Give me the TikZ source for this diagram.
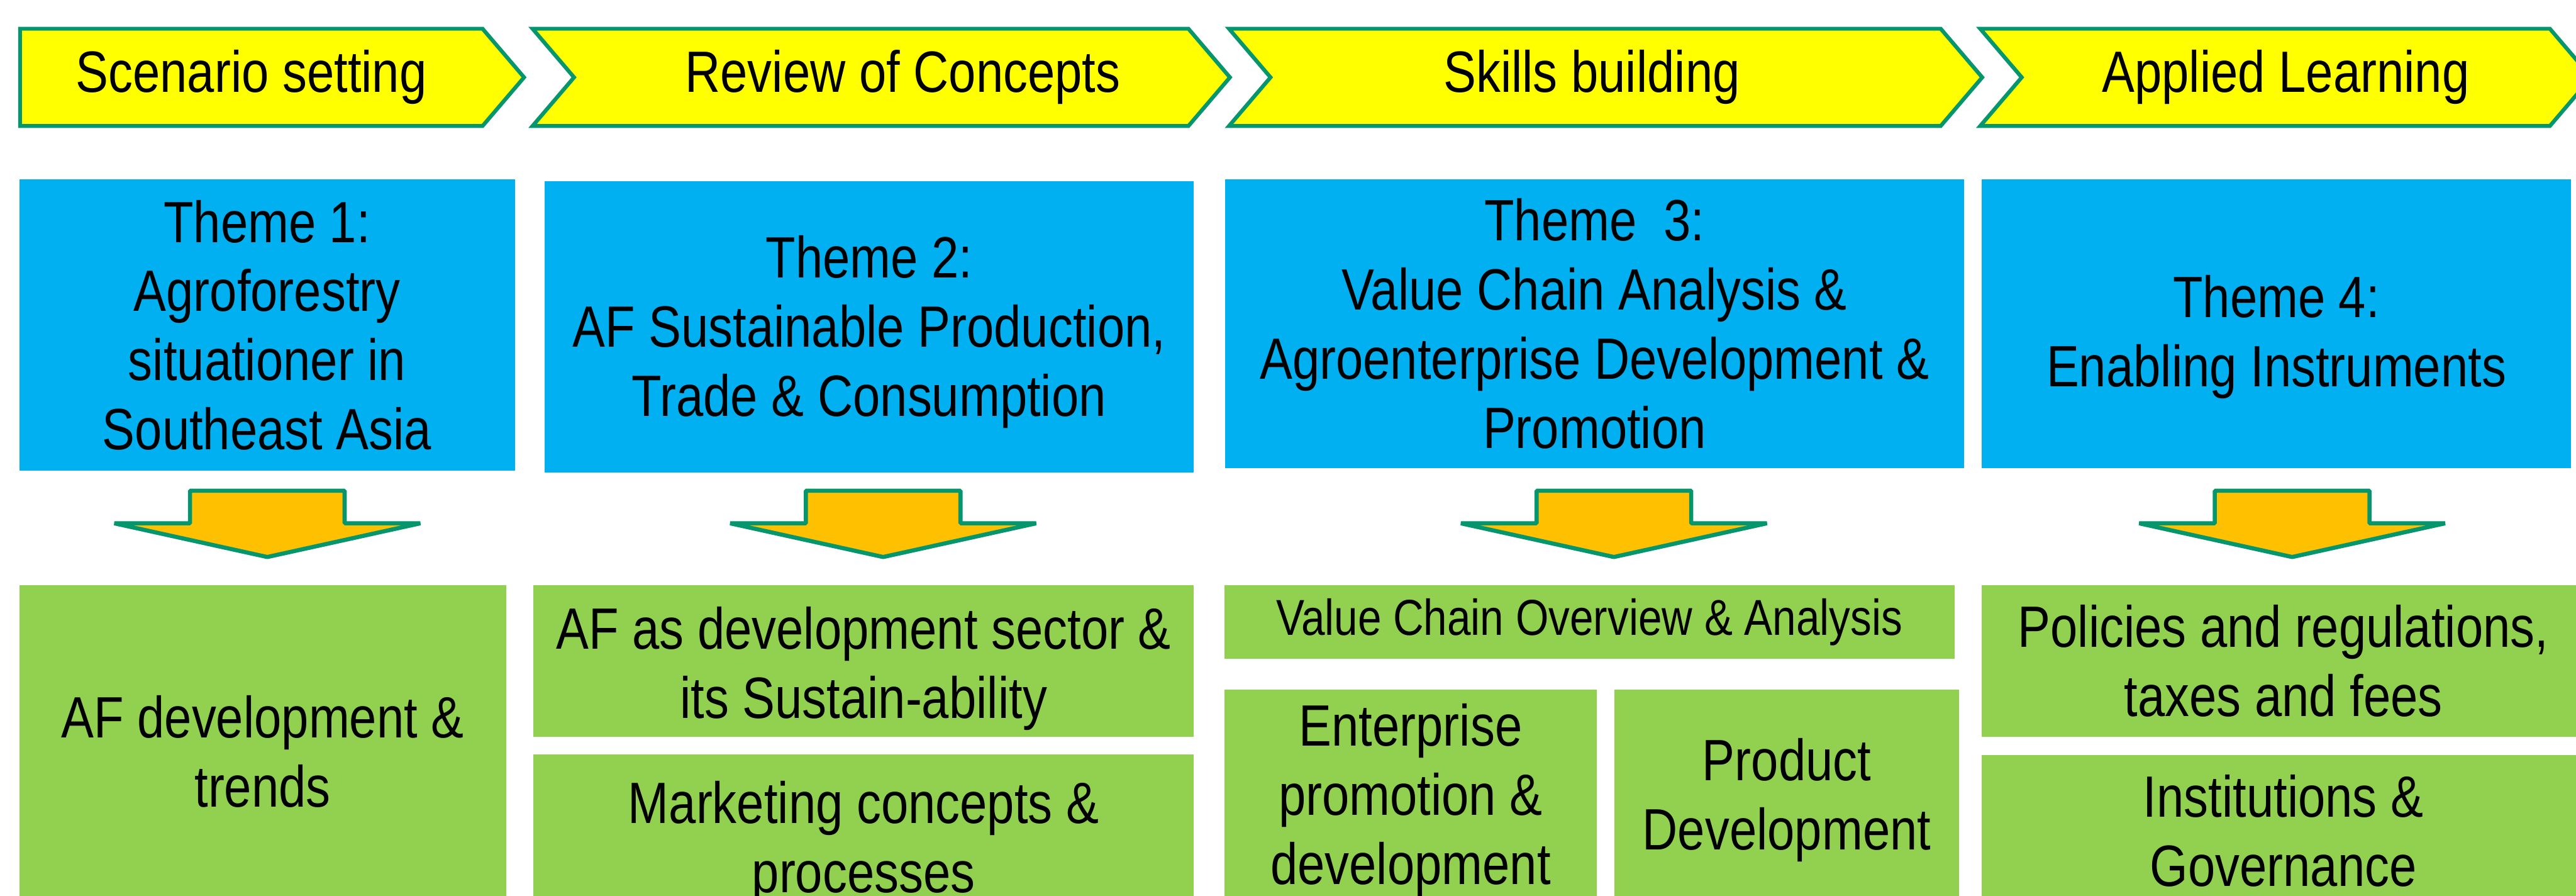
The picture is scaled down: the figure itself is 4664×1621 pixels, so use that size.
\documentclass[tikz,border=0pt]{standalone}
\usepackage{fontspec}
\setmainfont{Liberation Sans}[FakeStretch=0.84]
\usetikzlibrary{shapes.symbols}
\definecolor{chevyellow}{RGB}{255,255,0}
\definecolor{edgegreen}{RGB}{5,150,110}
\definecolor{themeblue}{RGB}{0,176,240}
\definecolor{topicgreen}{RGB}{146,208,80}
\definecolor{arroworange}{RGB}{255,192,0}

\begin{document}
\begin{tikzpicture}[
        x=0.01cm, y=-0.01cm,
        stage/.style={shape=signal, signal to=east, signal pointer angle=99,
            draw=edgegreen, line width=0.07cm, fill=chevyellow,
            minimum height=1.76cm, inner sep=0pt,
            font=\fontsize{30}{35.6}\selectfont},
        theme/.style={rectangle, fill=themeblue, align=center, inner sep=0pt,
            font=\fontsize{30}{35.6}\selectfont},
        topic/.style={rectangle, fill=topicgreen, align=center, inner sep=0pt,
            font=\fontsize{30}{35.6}\selectfont},
        downarrow/.pic={
            \draw[draw=edgegreen, line width=0.075cm, line join=bevel, fill=arroworange]
                (-140,0) -- (140,0) -- (140,59) -- (277,59) -- (0,120)
                -- (-277,59) -- (-140,59) -- cycle;
        }
    ]
        \useasboundingbox (0,0) rectangle (4664,1621);
        \clip (0,0) rectangle (4664,1621);

        % learning stages
        \node[stage, minimum width=9.12cm] (scen) at (455,140) {Scenario setting};
        \node[stage, signal from=west, minimum width=12.62cm] (review) at (1595.5,140) {\hspace*{0.78cm}Review of Concepts};
        \node[stage, signal from=west, minimum width=13.63cm] (skills) at (2907,140) {Skills building\hspace*{0.5cm}};
        \node[stage, signal from=west, minimum width=11.06cm] (applied) at (4138.5,140) {Applied Learning};

        % themes
        \node[theme, minimum width=8.97cm, minimum height=5.27cm] (theme1) at (483.5,588.5)
            {Theme 1:\\Agroforestry\\situationer in\\Southeast Asia};
        \node[theme, minimum width=11.75cm, minimum height=5.27cm] (theme2) at (1573.5,591.5)
            {\rule{0pt}{0.95cm}Theme 2:\\AF Sustainable Production,\\Trade \& Consumption};
        \node[theme, minimum width=13.38cm, minimum height=5.22cm] (theme3) at (2887,586)
            {Theme\ \ 3:\\Value Chain Analysis \&\\Agroenterprise Development \&\\Promotion};
        \node[theme, minimum width=10.67cm, minimum height=5.22cm] (theme4) at (4121.5,586)
            {\rule{0pt}{1.25cm}Theme 4:\\Enabling Instruments};

        \pic at (484,888) {downarrow};
        \pic at (1599,888) {downarrow};
        \pic at (2922,888) {downarrow};
        \pic at (4150,888) {downarrow};

        % topics under each theme
        \node[topic, minimum width=8.81cm, minimum height=6.01cm] (trends) at (475.5,1359.5)
            {AF development \&\\trends};
        \node[topic, minimum width=11.95cm, minimum height=2.74cm] (sector) at (1563.5,1196)
            {\rule{0pt}{1.05cm}AF as development sector \&\\its Sustain-ability};
        \node[topic, minimum width=11.95cm, minimum height=2.98cm] (market) at (1563.5,1514)
            {\rule{0pt}{1.0cm}Marketing concepts \&\\processes};
        \node[topic, minimum width=13.21cm, minimum height=1.33cm,
            font=\fontsize{26}{31}\selectfont] (vca) at (2877.5,1125.5)
            {Value Chain Overview \& Analysis};
        \node[topic, minimum width=6.74cm, minimum height=4cm] (enterp) at (2554,1448)
            {Enterprise\\promotion \&\\development};
        \node[topic, minimum width=6.24cm, minimum height=4cm] (product) at (3235,1448)
            {Product\\Development};
        \node[topic, minimum width=10.92cm, minimum height=2.74cm] (policy) at (4134,1196)
            {Policies and regulations,\\taxes and fees};
        \node[topic, minimum width=10.92cm, minimum height=2.74cm] (inst) at (4134,1503)
            {Institutions \&\\Governance};
    \end{tikzpicture}
\end{document}
